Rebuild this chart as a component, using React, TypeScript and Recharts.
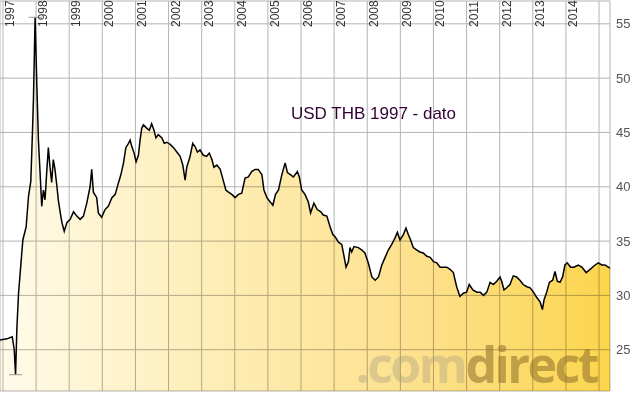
import React from "react";
import {
  AreaChart,
  Area,
  XAxis,
  YAxis,
  CartesianGrid,
  ReferenceLine,
} from "recharts";

// decimal year of each reading
const dates = [
  1996.91, 1997.12, 1997.28, 1997.34, 1997.38, 1997.42, 1997.47, 1997.52, 1997.6, 1997.7,
  1997.77, 1997.84, 1997.89, 1997.92, 1997.97, 1998.02, 1998.07, 1998.12, 1998.17, 1998.22,
  1998.27, 1998.32, 1998.37, 1998.42, 1998.47, 1998.52, 1998.57, 1998.63, 1998.67, 1998.73,
  1998.78, 1998.85, 1998.93, 1999.03, 1999.13, 1999.23, 1999.33, 1999.43, 1999.53, 1999.63,
  1999.68, 1999.73, 1999.83, 1999.88, 1999.98, 2000.08, 2000.18, 2000.29, 2000.39, 2000.49,
  2000.56, 2000.64, 2000.71, 2000.79, 2000.84, 2000.89, 2000.96, 2001.02, 2001.09, 2001.14,
  2001.19, 2001.24, 2001.34, 2001.42, 2001.49, 2001.56, 2001.62, 2001.69, 2001.8, 2001.87,
  2001.95, 2002.05, 2002.15, 2002.25, 2002.35, 2002.43, 2002.5, 2002.55, 2002.65, 2002.73,
  2002.8, 2002.87, 2002.95, 2003.05, 2003.15, 2003.23, 2003.31, 2003.37, 2003.46, 2003.56,
  2003.66, 2003.73, 2003.81, 2003.91, 2004.01, 2004.11, 2004.21, 2004.31, 2004.41, 2004.51,
  2004.61, 2004.71, 2004.82, 2004.88, 2004.97, 2005.07, 2005.15, 2005.23, 2005.32, 2005.42,
  2005.52, 2005.59, 2005.69, 2005.77, 2005.89, 2005.95, 2006.02, 2006.12, 2006.22, 2006.29,
  2006.39, 2006.49, 2006.6, 2006.67, 2006.78, 2006.88, 2006.96, 2007.03, 2007.13, 2007.23,
  2007.3, 2007.36, 2007.43, 2007.48, 2007.53, 2007.6, 2007.73, 2007.83, 2007.93, 2008.03,
  2008.14, 2008.24, 2008.34, 2008.44, 2008.54, 2008.64, 2008.74, 2008.84, 2008.91, 2008.99,
  2009.09, 2009.17, 2009.24, 2009.31, 2009.39, 2009.49, 2009.59, 2009.69, 2009.8, 2009.9,
  2010.0, 2010.1, 2010.2, 2010.3, 2010.4, 2010.5, 2010.6, 2010.7, 2010.8, 2010.9,
  2011.0, 2011.08, 2011.19, 2011.31, 2011.41, 2011.51, 2011.61, 2011.71, 2011.81, 2011.91,
  2012.01, 2012.06, 2012.13, 2012.21, 2012.31, 2012.41, 2012.51, 2012.61, 2012.71, 2012.82,
  2012.92, 2013.02, 2013.12, 2013.22, 2013.29, 2013.34, 2013.42, 2013.5, 2013.6, 2013.67,
  2013.74, 2013.82, 2013.9, 2013.97, 2014.04, 2014.14, 2014.24, 2014.37, 2014.48, 2014.61,
  2014.73, 2014.88, 2014.98, 2015.08, 2015.18, 2015.28, 2015.33,
];

// THB per USD
const usdThb = [
  25.9, 26.0, 26.2, 25.0, 22.7, 27.0, 30.2, 32.1, 35.1, 36.3,
  39.1, 40.5, 45.0, 48.0, 55.6, 49.6, 44.3, 41.3, 38.2, 39.7,
  38.8, 41.3, 43.6, 41.8, 40.4, 42.5, 41.6, 40.0, 38.8, 37.6,
  36.7, 35.9, 36.7, 37.0, 37.7, 37.3, 37.0, 37.3, 38.5, 40.0,
  41.6, 39.5, 39.0, 37.6, 37.2, 37.9, 38.2, 39.0, 39.3, 40.4,
  41.1, 42.2, 43.6, 44.0, 44.3, 43.7, 43.1, 42.3, 42.9, 44.3,
  45.4, 45.7, 45.4, 45.2, 45.8, 45.2, 44.5, 44.8, 44.5, 44.0,
  44.1, 43.9, 43.6, 43.2, 42.8, 42.0, 40.6, 41.8, 42.8, 44.0,
  43.7, 43.2, 43.4, 42.9, 42.8, 43.1, 42.5, 41.8, 42.0, 41.6,
  40.5, 39.7, 39.5, 39.3, 39.0, 39.3, 39.4, 40.8, 40.9, 41.4,
  41.6, 41.6, 41.1, 39.7, 39.0, 38.6, 38.3, 39.3, 39.7, 41.1,
  42.2, 41.3, 41.1, 40.9, 41.4, 40.9, 39.7, 39.3, 38.6, 37.6,
  38.5, 37.9, 37.7, 37.4, 37.3, 36.3, 35.6, 35.4, 34.9, 34.7,
  33.6, 32.6, 33.1, 34.4, 34.0, 34.5, 34.4, 34.2, 33.9, 33.0,
  31.7, 31.4, 31.7, 32.8, 33.5, 34.2, 34.7, 35.3, 35.8, 35.1,
  35.6, 36.2, 35.6, 35.1, 34.4, 34.2, 34.0, 33.9, 33.6, 33.5,
  33.1, 33.0, 32.6, 32.6, 32.6, 32.4, 32.1, 30.8, 29.9, 30.2,
  30.3, 31.0, 30.5, 30.3, 30.3, 30.0, 30.3, 31.2, 31.0, 31.3,
  31.7, 31.3, 30.5, 30.7, 31.0, 31.8, 31.7, 31.4, 31.0, 30.8,
  30.7, 30.3, 29.8, 29.4, 28.7, 29.6, 30.3, 31.2, 31.4, 32.2,
  31.3, 31.2, 31.7, 32.8, 33.0, 32.6, 32.6, 32.8, 32.6, 32.1,
  32.4, 32.8, 33.0, 32.8, 32.8, 32.6, 32.5,
];

const yearTicks = [
  1997, 1998, 1999, 2000, 2001, 2002, 2003, 2004, 2005, 2006, 2007, 2008, 2009,
  2010, 2011, 2012, 2013, 2014, 2015,
];
const rateTicks = [25, 30, 35, 40, 45, 50, 55];
const labelledYears = yearTicks.slice(0, -1);

const title = "USD THB 1997 - dato";

const data = dates.map((t, i) => ({ t, rate: usdThb[i] }));

const hi = usdThb.indexOf(Math.max(...usdThb));
const lo = usdThb.indexOf(Math.min(...usdThb));

const FONT = "Arial, 'Liberation Sans', sans-serif";

function YearTick({ x, payload }: any) {
  if (!labelledYears.includes(payload.value)) return <g />;
  return (
    <text
      transform={`translate(${x + 11},27) rotate(-90)`}
      fontSize={12}
      fill="#333"
      fontFamily={FONT}
    >
      {payload.value}
    </text>
  );
}

export default function App() {
  return (
    <div style={{ position: "relative", width: 640, height: 398, background: "#fff" }}>
      <style>{`body{margin:0} .recharts-area-area{mix-blend-mode:multiply}`}</style>
      <AreaChart
        width={640}
        height={398}
        data={data}
        margin={{ top: 0, right: 0, left: 0, bottom: 7 }}
      >
        <defs>
          <linearGradient id="fillGold" x1="0" y1="0" x2="1" y2="0">
            <stop offset="0%" stopColor="#fffbea" />
            <stop offset="35%" stopColor="#feedb6" />
            <stop offset="70%" stopColor="#fde08a" />
            <stop offset="100%" stopColor="#fcd54c" />
          </linearGradient>
        </defs>
        <CartesianGrid stroke="#b4b4b4" strokeWidth={1} />
        <XAxis
          dataKey="t"
          type="number"
          orientation="top"
          height={1}
          domain={[1996.913, 2015.331]}
          ticks={yearTicks}
          interval={0}
          axisLine={false}
          tickLine={false}
          tick={(p: any) => <YearTick {...p} />}
        />
        <YAxis
          orientation="right"
          width={30}
          domain={[21.2, 57.1]}
          ticks={rateTicks}
          interval={0}
          axisLine={false}
          tickLine={false}
          tickSize={4}
          tickMargin={2}
          tick={{ fill: "#555", fontSize: 13, fontFamily: FONT, textAnchor: "start" }}
        />
        <Area
          type="linear"
          dataKey="rate"
          stroke="#000"
          strokeWidth={1.5}
          fill="url(#fillGold)"
          fillOpacity={1}
          baseValue="dataMin"
          isAnimationActive={false}
          dot={false}
          activeDot={false}
        />
        <ReferenceLine
          segment={[
            { x: dates[hi] - 0.2, y: usdThb[hi] },
            { x: dates[hi] + 0.2, y: usdThb[hi] },
          ]}
          stroke="#999"
        />
        <ReferenceLine
          segment={[
            { x: dates[lo] - 0.2, y: usdThb[lo] },
            { x: dates[lo] + 0.2, y: usdThb[lo] },
          ]}
          stroke="#999"
        />
      </AreaChart>
      <svg
        width={640}
        height={398}
        style={{ position: "absolute", left: 0, top: 0, pointerEvents: "none" }}
      >
        <text x={291} y={119} fontSize={17} fill="#330033" fontFamily={FONT}>
          {title}
        </text>
        <text
          x={597}
          y={383}
          textAnchor="end"
          fontSize={50}
          fontWeight={700}
          letterSpacing={-2.5}
          fontFamily="'Open Sans', 'Noto Sans', sans-serif"
        >
          <tspan fill="rgba(170,160,130,0.4)">.com</tspan>
          <tspan fill="rgba(140,110,40,0.55)">direct</tspan>
        </text>
      </svg>
    </div>
  );
}
